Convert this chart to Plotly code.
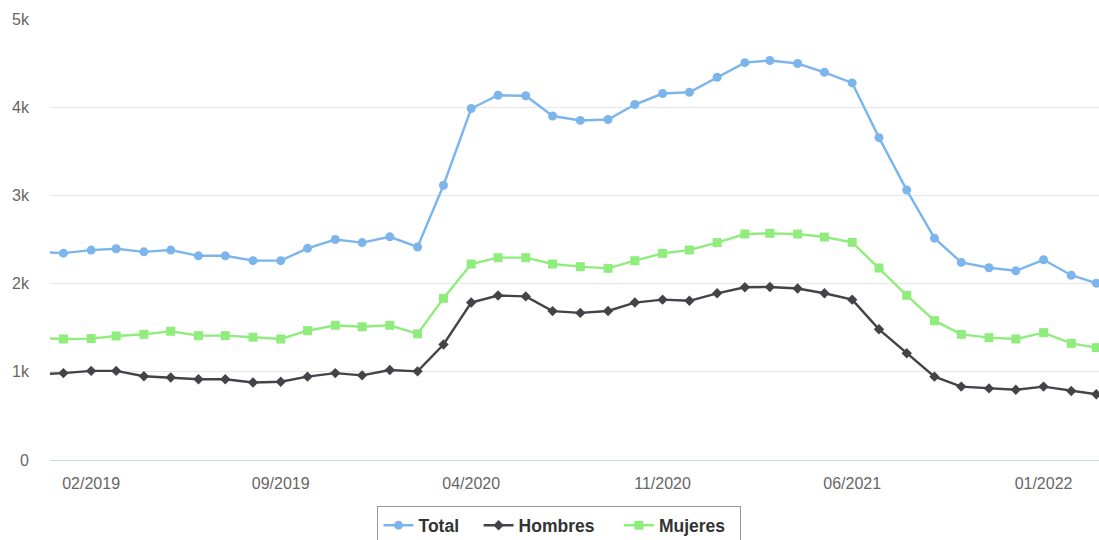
import plotly.graph_objects as go
import pandas as pd

# Monthly values, 12/2018 - 03/2022 (the first month sits just left of the visible window)
months = pd.date_range("2018-12-01", "2022-03-01", freq="MS")

total = [2360, 2345, 2380, 2395, 2360, 2380, 2315, 2315, 2260, 2260, 2400, 2500, 2465,
         2530, 2415, 3115, 3985, 4135, 4130, 3900, 3850, 3860, 4030, 4155, 4170,
         4340, 4505, 4530, 4495, 4395, 4275, 3655, 3060, 2515, 2240, 2180, 2145,
         2270, 2095, 2005]
hombres = [970, 985, 1010, 1010, 950, 935, 915, 915, 878, 888, 945, 985, 960,
           1020, 1005, 1310, 1785, 1865, 1855, 1688, 1668, 1690, 1785, 1818, 1805,
           1890, 1958, 1962, 1945, 1890, 1818, 1482, 1210, 945, 832, 812, 797,
           832, 782, 745]
mujeres = [1385, 1372, 1376, 1406, 1425, 1460, 1410, 1410, 1392, 1372, 1466, 1527, 1510,
           1527, 1430, 1833, 2222, 2294, 2294, 2222, 2192, 2173, 2260, 2343, 2381,
           2464, 2562, 2570, 2562, 2528, 2468, 2177, 1867, 1580, 1425, 1387, 1372,
           1444, 1323, 1274]

y_ticks = [0, 1000, 2000, 3000, 4000, 5000]
y_labels = ["0", "1k", "2k", "3k", "4k", "5k"]

nb = "\u00a0"  # extra room between legend entries
series = [
    ("Total", total, "#7cb5ec", "circle", 9, nb * 3),
    ("Hombres", hombres, "#434348", "diamond", 8, nb * 4),
    ("Mujeres", mujeres, "#90ed7d", "square", 9, nb * 2),
]

fig = go.Figure()
for name, vals, color, symbol, size, pad in series:
    fig.add_trace(go.Scatter(
        x=months, y=vals, name=name + pad, mode="lines+markers",
        line=dict(color=color, width=2.4),
        marker=dict(color=color, symbol=symbol, size=size),
        hovertemplate=name + ": %{y}<extra></extra>",
    ))

fig.update_layout(
    width=1099, height=540,
    margin=dict(l=50, r=0, t=19, b=80, autoexpand=False),
    paper_bgcolor="white", plot_bgcolor="white",
    font=dict(family="Liberation Sans, Arial, sans-serif", size=16, color="#666666"),
    showlegend=True,
    legend=dict(
        orientation="h", x=0.4857, xanchor="center", y=-0.105, yanchor="top",
        bordercolor="#999999", borderwidth=1,
        font=dict(size=17.5, color="#333333", weight="bold"),
    ),
    hovermode="x unified",
)

fig.update_xaxes(
    range=["2018-12-17", "2022-03-04"],
    tick0="2019-02-01", dtick="M7", tickformat="%m/%Y",
    showgrid=False, showline=True, linecolor="#ccd6eb", linewidth=1,
    ticks="", zeroline=False, automargin=False, ticklabelstandoff=9,
)
fig.update_yaxes(
    range=[0, 5000], tickvals=y_ticks, ticktext=y_labels,
    showgrid=True, gridcolor="#e6e6e6", gridwidth=1,
    zeroline=False, showline=False, ticklabelstandoff=20, automargin=False,
)

fig.write_html("out.html", config={"displayModeBar": False},
               post_script="document.body.style.margin='0';document.body.style.overflow='hidden';")
